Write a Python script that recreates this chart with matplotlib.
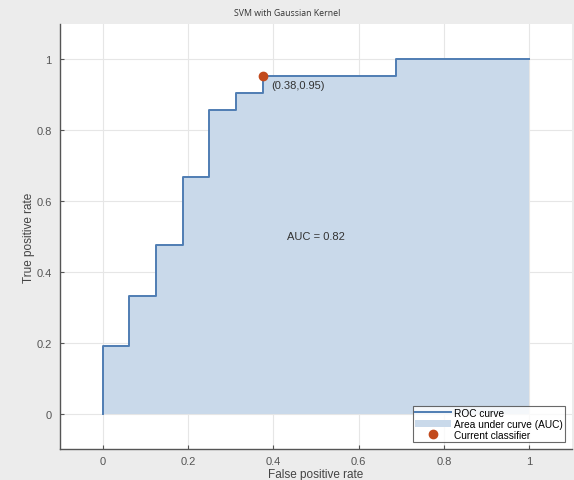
import matplotlib
matplotlib.use("Agg")
import matplotlib.pyplot as plt
import numpy as np

plt.rcParams['font.family'] = ['Liberation Sans', 'DejaVu Sans']

# ROC vertices (step curve)
fpr = [0, 0, 0.0625, 0.0625, 0.125, 0.125, 0.1875, 0.1875, 0.25, 0.25,
       0.3125, 0.3125, 0.375, 0.375, 0.6875, 0.6875, 1.0]
tpr = [0, 4/21, 4/21, 7/21, 7/21, 10/21, 10/21, 14/21, 14/21, 18/21,
       18/21, 19/21, 19/21, 20/21, 20/21, 1.0, 1.0]
op_point = (0.375, 20/21)
auc_value = 0.82
ticks = [0, 0.2, 0.4, 0.6, 0.8, 1]

fig = plt.figure(figsize=(5.74, 4.81), dpi=100, facecolor='#ececec')
ax = fig.add_axes([60/574, 1 - 450/481, 512/574, 425/481])
ax.set_facecolor('white')

ax.fill_between(fpr, tpr, 0, color='#c9d9ea', lw=0, label='Area under curve (AUC)')
ax.plot(fpr, tpr, color='#4f7db3', lw=1.4, label='ROC curve')
ax.plot(*op_point, 'o', color='#c24a1c', ms=6, label='Current classifier')

ax.annotate('(%.2f,%.2f)' % op_point, op_point, xytext=(6, -6),
            textcoords='offset points', fontsize=8, color='#333333', va='center')
ax.text(0.5, 0.5, 'AUC = %.2f' % auc_value, fontsize=8, color='#333333',
        ha='center', va='center')

ax.set_xlim(-0.1, 1.1)
ax.set_ylim(-0.1, 1.1)
ax.set_xticks(ticks)
ax.set_yticks(ticks)
ax.set_xticklabels(['0', '0.2', '0.4', '0.6', '0.8', '1'])
ax.set_yticklabels(['0', '0.2', '0.4', '0.6', '0.8', '1'])
ax.tick_params(direction='in', length=3, colors='#555555', labelsize=8, pad=6)
ax.tick_params(axis='x', pad=5)
ax.grid(True, color='#e6e6e6', lw=0.8)
ax.set_axisbelow(True)
for side in ['top', 'right']:
    ax.spines[side].set_visible(False)
for side in ['left', 'bottom']:
    ax.spines[side].set_color('#555555')
    ax.spines[side].set_linewidth(1.0)

ax.set_xlabel('False positive rate', fontsize=8.5, color='#444444', labelpad=1.5)
ax.set_ylabel('True positive rate', fontsize=8.5, color='#444444', labelpad=1)
fig.text(0.5, 1 - 13/481, 'SVM with Gaussian Kernel', ha='center', va='center',
         fontsize=6.3, color='#333333', family=['Open Sans', 'DejaVu Sans'])

handles, labels = ax.get_legend_handles_labels()
order = [1, 0, 2]
leg = ax.legend([handles[i] for i in order], [labels[i] for i in order],
                loc='lower right', fontsize=7.3, frameon=True, fancybox=False,
                borderpad=0.2, labelspacing=0.1, handlelength=3.6,
                handletextpad=0.3, borderaxespad=0.7)
leg.get_frame().set_edgecolor('#444444')
leg.get_frame().set_linewidth(0.8)

fig.savefig('out.png', dpi=100, facecolor=fig.get_facecolor())
